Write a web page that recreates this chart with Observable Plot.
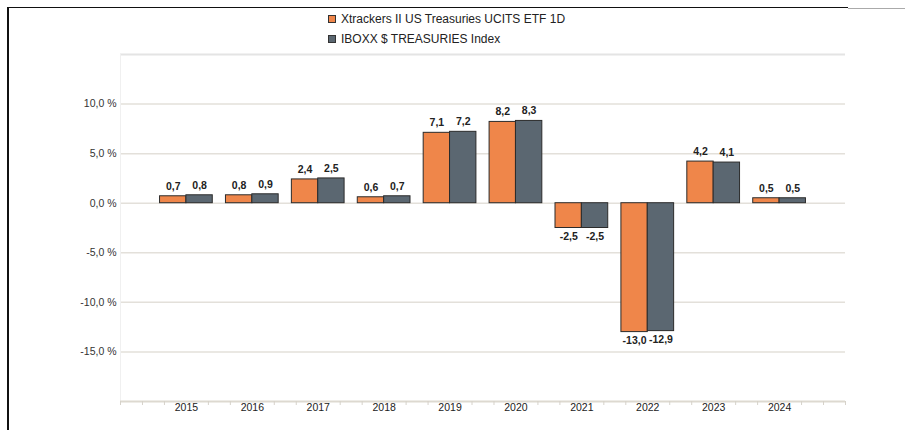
<!DOCTYPE html>
<html>
<head>
<meta charset="utf-8">
<script src="https://cdn.jsdelivr.net/npm/d3@7"></script>
<script src="https://cdn.jsdelivr.net/npm/@observablehq/plot@0.6"></script>
<style>
  html, body { margin: 0; padding: 0; background: #fff; }
  body { width: 905px; height: 430px; overflow: hidden; position: relative; font-family: "Liberation Sans", Arial, sans-serif; }
  #frameL { position: absolute; left: 7px; top: 7px; width: 841px; height: 430px; border-left: 2px solid #111; border-top: 1.5px solid #111; box-sizing: border-box; }
  #frameR { position: absolute; left: 848px; top: 8px; width: 57px; border-top: 1px solid #aaa; }
  #legend { position: relative; height: 52px; }
  .item { position: absolute; left: 328px; display: flex; align-items: center; font-size: 12px; color: #222; white-space: nowrap; }
  .sw { width: 8px; height: 8px; border: 1px solid #333; margin-right: 5px; box-sizing: border-box; }
  #chart svg { display: block; }
</style>
</head>
<body>
<div id="frameL"></div>
<div id="frameR"></div>
<div id="legend"></div>
<div id="chart"></div>
<script>
const years = [2015, 2016, 2017, 2018, 2019, 2020, 2021, 2022, 2023, 2024];
const fund = [0.7, 0.8, 2.4, 0.6, 7.1, 8.2, -2.5, -13.0, 4.2, 0.5];
const benchmark = [0.8, 0.9, 2.5, 0.7, 7.2, 8.3, -2.5, -12.9, 4.1, 0.5];
const seriesNames = ["Xtrackers II US Treasuries UCITS ETF 1D", "IBOXX $ TREASURIES Index"];
const colors = ["#EF864A", "#5B6771"];
const yTicks = [-15, -10, -5, 0, 5, 10];

const rows = years.flatMap((yr, i) => [
  {year: yr, s: 0, name: seriesNames[0], v: fund[i]},
  {year: yr, s: 1, name: seriesNames[1], v: benchmark[i]}
]);
const fmt = v => v.toFixed(1).replace(".", ",");
const minorTicks = d3.range(0, 34).map(k => 2014 + k / 3).filter(t => !years.some(y => Math.abs(y - t) < 1e-6));

// legend
const legend = document.getElementById("legend");
seriesNames.forEach((n, i) => {
  const it = document.createElement("div");
  it.className = "item";
  it.style.top = (i === 0 ? 12 : 32) + "px";
  it.innerHTML = `<span class="sw" style="background:${colors[i]}"></span><span>${n}</span>`;
  legend.appendChild(it);
});

const chart = Plot.plot({
  width: 905,
  height: 378,
  marginLeft: 120,
  marginRight: 60,
  marginTop: 2,
  marginBottom: 29,
  style: {fontFamily: "'Liberation Sans', Arial, sans-serif", background: "transparent"},
  x: {type: "linear", domain: [2014, 2025], axis: null, label: null},
  y: {domain: [-20, 15], axis: null, label: null},
  color: {type: "ordinal", domain: seriesNames, range: colors},
  marks: [
    Plot.ruleY(yTicks, {stroke: "#e3e0da", strokeWidth: 1.5}),
    Plot.ruleY([15], {stroke: "#e4e4e4", strokeWidth: 2}),
    Plot.ruleX([2014], {stroke: "#f0f0f0", strokeWidth: 1}),
    Plot.ruleY([-20], {stroke: "#ddd9d0", strokeWidth: 2}),
    Plot.axisX(minorTicks, {tickSize: 4, tickFormat: () => "", stroke: "#d6d2ca", label: null}),
    Plot.axisX(years, {tickSize: 0, tickPadding: 2, tickFormat: d => String(d), fontSize: 10.5, fill: "#222", label: null}),
    Plot.axisY(yTicks, {tickSize: 0, tickPadding: 4, tickFormat: d => fmt(d) + " %", fontSize: 10.5, fill: "#333", label: null}),
    Plot.rectY(rows, {
      x1: d => d.year - 0.4 + d.s * 0.4,
      x2: d => d.year + d.s * 0.4,
      y1: 0, y2: "v",
      fill: "name", stroke: "#2b2b2b", strokeWidth: 1
    }),
    Plot.text(rows.filter(d => d.v >= 0), {
      x: d => d.year - 0.2 + d.s * 0.4, y: "v", text: d => fmt(d.v),
      dy: -10, fontSize: 10.5, fontWeight: "bold", fill: "#222"
    }),
    Plot.text(rows.filter(d => d.v < 0), {
      x: d => d.year - 0.2 + d.s * 0.4, y: "v", text: d => fmt(d.v),
      dy: 9, fontSize: 10.5, fontWeight: "bold", fill: "#222"
    })
  ]
});
document.getElementById("chart").appendChild(chart);
</script>
</body>
</html>
